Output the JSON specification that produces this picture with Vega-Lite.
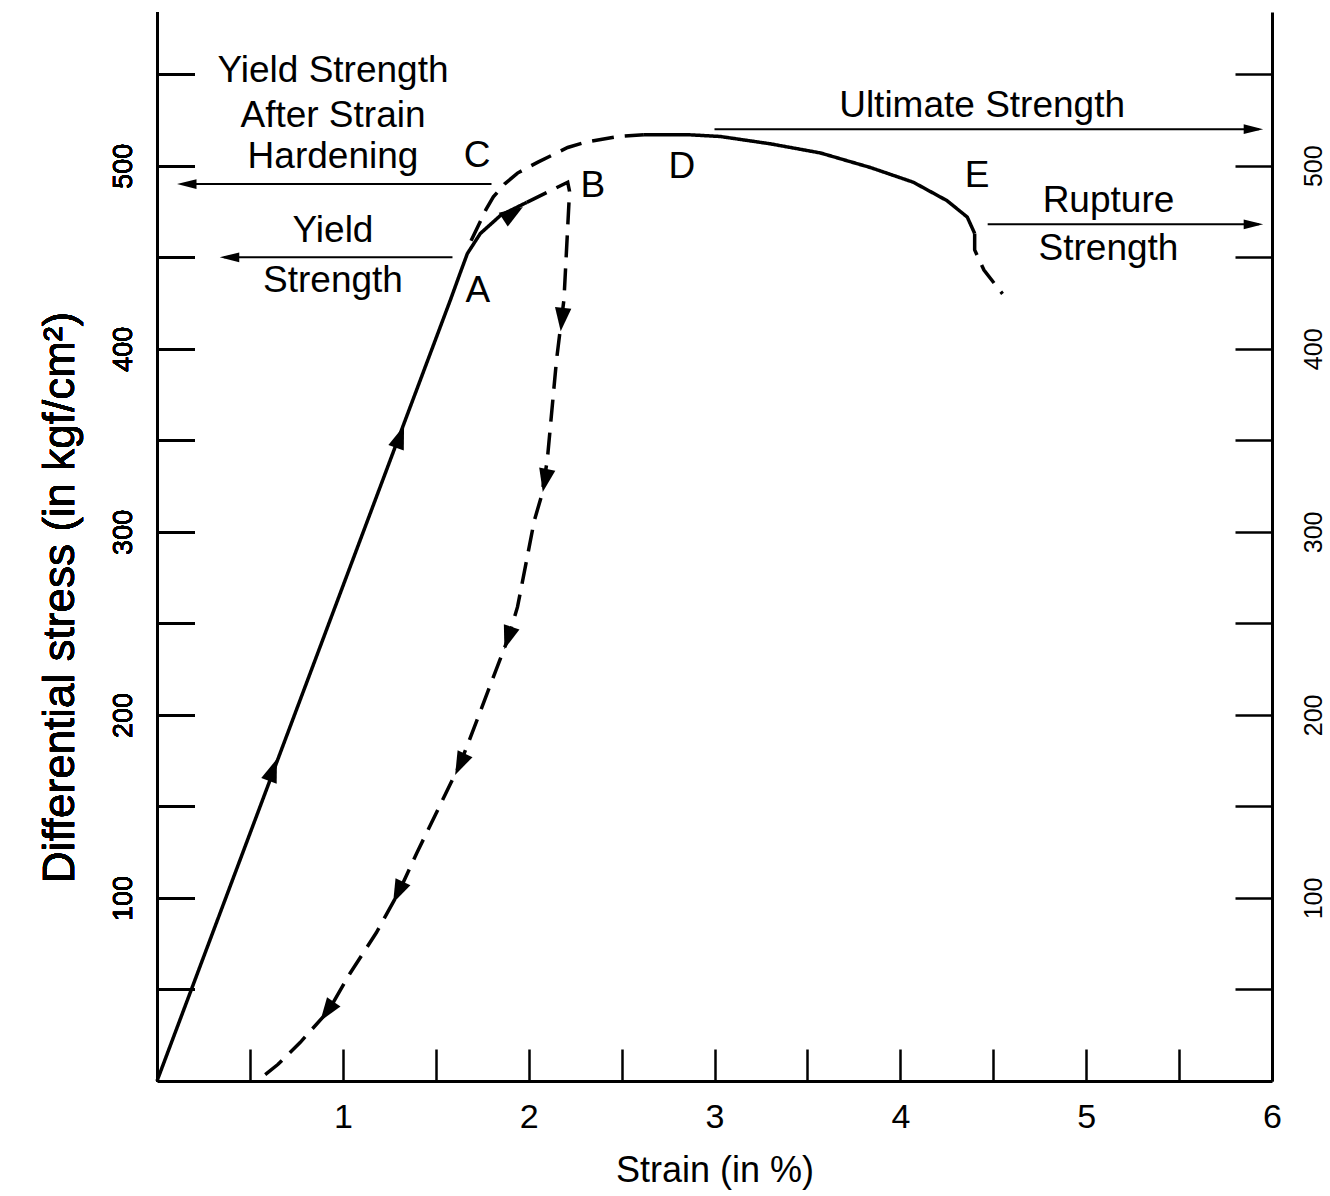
{
  "$schema": "https://vega.github.io/schema/vega-lite/v6.json",
  "autosize": {"type": "none"},
  "padding": {"left": 157, "top": 12, "right": 58, "bottom": 115},
  "width": 1115,
  "height": 1069,
  "background": "white",
  "config": {"view": {"stroke": null}, "font": "Liberation Sans"},
  "datasets": {
    "curves": [
      {"series": "load", "style": "solid", "i": 0, "x": 0, "y": 0},
      {"series": "load", "style": "solid", "i": 1, "x": 1.58, "y": 427},
      {"series": "load", "style": "solid", "i": 2, "x": 1.63, "y": 441},
      {"series": "load", "style": "solid", "i": 3, "x": 1.67, "y": 452},
      {"series": "load", "style": "solid", "i": 4, "x": 1.74, "y": 463},
      {"series": "load", "style": "solid", "i": 5, "x": 1.85, "y": 473},
      {"series": "load", "style": "solid", "i": 6, "x": 1.99, "y": 480},
      {"series": "unload", "style": "dashed", "i": 0, "x": 1.99, "y": 480},
      {"series": "unload", "style": "dashed", "i": 1, "x": 2.21, "y": 491},
      {"series": "unload", "style": "dashed", "i": 2, "x": 2.22, "y": 486},
      {"series": "unload", "style": "dashed", "i": 3, "x": 2.19, "y": 427},
      {"series": "unload", "style": "dashed", "i": 4, "x": 2.15, "y": 394},
      {"series": "unload", "style": "dashed", "i": 5, "x": 2.13, "y": 372},
      {"series": "unload", "style": "dashed", "i": 6, "x": 2.1, "y": 339},
      {"series": "unload", "style": "dashed", "i": 7, "x": 2.07, "y": 320},
      {"series": "unload", "style": "dashed", "i": 8, "x": 2.03, "y": 306},
      {"series": "unload", "style": "dashed", "i": 9, "x": 1.99, "y": 285},
      {"series": "unload", "style": "dashed", "i": 10, "x": 1.94, "y": 259},
      {"series": "unload", "style": "dashed", "i": 11, "x": 1.89, "y": 242},
      {"series": "unload", "style": "dashed", "i": 12, "x": 1.8, "y": 218},
      {"series": "unload", "style": "dashed", "i": 13, "x": 1.68, "y": 186},
      {"series": "unload", "style": "dashed", "i": 14, "x": 1.63, "y": 173},
      {"series": "unload", "style": "dashed", "i": 15, "x": 1.52, "y": 150},
      {"series": "unload", "style": "dashed", "i": 16, "x": 1.4, "y": 125},
      {"series": "unload", "style": "dashed", "i": 17, "x": 1.3, "y": 103},
      {"series": "unload", "style": "dashed", "i": 18, "x": 1.18, "y": 81},
      {"series": "unload", "style": "dashed", "i": 19, "x": 1.04, "y": 59},
      {"series": "unload", "style": "dashed", "i": 20, "x": 0.92, "y": 38},
      {"series": "unload", "style": "dashed", "i": 21, "x": 0.77, "y": 21},
      {"series": "unload", "style": "dashed", "i": 22, "x": 0.65, "y": 9},
      {"series": "unload", "style": "dashed", "i": 23, "x": 0.54, "y": 0},
      {"series": "reload", "style": "dashed", "i": 0, "x": 1.69, "y": 459},
      {"series": "reload", "style": "dashed", "i": 1, "x": 1.77, "y": 476},
      {"series": "reload", "style": "dashed", "i": 2, "x": 1.81, "y": 483},
      {"series": "reload", "style": "dashed", "i": 3, "x": 1.87, "y": 490},
      {"series": "reload", "style": "dashed", "i": 4, "x": 1.94, "y": 496},
      {"series": "reload", "style": "dashed", "i": 5, "x": 2.05, "y": 502},
      {"series": "reload", "style": "dashed", "i": 6, "x": 2.21, "y": 510},
      {"series": "reload", "style": "dashed", "i": 7, "x": 2.31, "y": 513},
      {"series": "reload", "style": "dashed", "i": 8, "x": 2.48, "y": 516},
      {"series": "reload", "style": "dashed", "i": 9, "x": 2.62, "y": 517},
      {"series": "plastic", "style": "solid", "i": 0, "x": 2.62, "y": 517},
      {"series": "plastic", "style": "solid", "i": 1, "x": 2.85, "y": 517},
      {"series": "plastic", "style": "solid", "i": 2, "x": 3.03, "y": 516},
      {"series": "plastic", "style": "solid", "i": 3, "x": 3.3, "y": 512},
      {"series": "plastic", "style": "solid", "i": 4, "x": 3.57, "y": 507},
      {"series": "plastic", "style": "solid", "i": 5, "x": 3.84, "y": 499},
      {"series": "plastic", "style": "solid", "i": 6, "x": 4.07, "y": 491},
      {"series": "plastic", "style": "solid", "i": 7, "x": 4.25, "y": 481},
      {"series": "plastic", "style": "solid", "i": 8, "x": 4.36, "y": 472},
      {"series": "plastic", "style": "solid", "i": 9, "x": 4.4, "y": 463},
      {"series": "rupture", "style": "dashed", "i": 0, "x": 4.4, "y": 463},
      {"series": "rupture", "style": "dashed", "i": 1, "x": 4.4, "y": 454},
      {"series": "rupture", "style": "dashed", "i": 2, "x": 4.45, "y": 443},
      {"series": "rupture", "style": "dashed", "i": 3, "x": 4.55, "y": 430}
    ],
    "shafts": [
      {"name": "yield", "x": 0.36, "x2": 1.59, "y": 450},
      {"name": "hardening", "x": 0.13, "x2": 1.8, "y": 490},
      {"name": "ultimate", "x": 3.0, "x2": 5.93, "y": 520},
      {"name": "rupture", "x": 4.47, "x2": 5.93, "y": 468}
    ],
    "arrows": [
      {"arrow": "load1", "x": 0.624, "y": 170},
      {"arrow": "load2", "x": 1.308, "y": 352},
      {"arrow": "load3", "x": 1.916, "y": 474},
      {"arrow": "unload1", "x": 2.179, "y": 416},
      {"arrow": "unload2", "x": 2.088, "y": 328},
      {"arrow": "unload3", "x": 1.889, "y": 242},
      {"arrow": "unload4", "x": 1.631, "y": 173},
      {"arrow": "unload5", "x": 1.297, "y": 103},
      {"arrow": "unload6", "x": 0.915, "y": 38},
      {"arrow": "yield", "x": 0.39, "y": 450},
      {"arrow": "hardening", "x": 0.16, "y": 490},
      {"arrow": "ultimate", "x": 5.9, "y": 520},
      {"arrow": "rupture", "x": 5.9, "y": 468}
    ],
    "labels": [
      {"text": "Yield Strength", "x": 0.947, "y": 545.8},
      {"text": "After Strain", "x": 0.947, "y": 521.2},
      {"text": "Hardening", "x": 0.947, "y": 498.8},
      {"text": "Yield", "x": 0.947, "y": 458.3},
      {"text": "Strength", "x": 0.947, "y": 431.0},
      {"text": "C", "x": 1.722, "y": 499.3},
      {"text": "A", "x": 1.727, "y": 425.6},
      {"text": "B", "x": 2.346, "y": 482.9},
      {"text": "D", "x": 2.825, "y": 493.3},
      {"text": "E", "x": 4.413, "y": 488.4},
      {"text": "Ultimate Strength", "x": 4.44, "y": 526.6},
      {"text": "Rupture", "x": 5.12, "y": 474.7},
      {"text": "Strength", "x": 5.12, "y": 448.5}
    ]
  },
  "encoding": {
    "x": {
      "field": "x", "type": "quantitative",
      "scale": {"domain": [0, 6], "nice": false, "zero": false},
      "axis": {
        "orient": "bottom",
        "values": [0.5, 1, 1.5, 2, 2.5, 3, 3.5, 4, 4.5, 5, 5.5, 6],
        "format": "~g",
        "labelExpr": "datum.value % 1 === 0 ? datum.label : ''",
        "grid": false,
        "domainColor": "black", "domainWidth": 3,
        "tickColor": "black", "tickWidth": 2.5, "tickSize": -32,
        "labelFont": "Liberation Sans", "labelFontSize": 34, "labelColor": "black",
        "labelPadding": 51, "labelFlush": false, "labelOverlap": false,
        "labelBaseline": "top",
        "title": "Strain (in %)",
        "titleFont": "Liberation Sans", "titleFontSize": 36, "titleFontWeight": "normal", "titleColor": "black",
        "titleBaseline": "alphabetic", "titleY": 100
      }
    },
    "y": {
      "field": "y", "type": "quantitative",
      "scale": {"domain": [0, 584], "nice": false, "zero": false},
      "axis": {
        "orient": "left",
        "values": [50, 100, 150, 200, 250, 300, 350, 400, 450, 500, 550],
        "labelExpr": "datum.value % 100 === 0 ? datum.label : ''",
        "grid": false,
        "domainColor": "black", "domainWidth": 3,
        "tickColor": "black", "tickWidth": 2.5, "tickSize": -37,
        "labelFont": "Liberation Sans", "labelFontSize": 27, "labelColor": "black",
        "labelAngle": -90, "labelAlign": "center", "labelBaseline": "bottom",
        "labelPadding": 57, "labelFlush": false, "labelOverlap": false,
        "title": "Differential stress (in kgf/cm²)",
        "titleFont": "Liberation Sans", "titleFontSize": 44, "titleFontWeight": "normal", "titleColor": "black",
        "titleAngle": -90, "titleAlign": "center", "titleBaseline": "middle",
        "titleX": -97, "titleY": 585
      }
    }
  },
  "layer": [
    {
      "data": {"name": "curves"},
      "mark": {"type": "line", "color": "black", "strokeWidth": 3.5, "strokeCap": "butt"},
      "encoding": {
        "detail": {"field": "series", "type": "nominal"},
        "order": {"field": "i", "type": "quantitative"},
        "strokeDash": {
          "field": "style", "type": "nominal", "legend": null,
          "scale": {"domain": ["solid", "dashed"], "range": [[1, 0], [22, 11]]}
        }
      }
    },
    {
      "data": {"name": "shafts"},
      "mark": {"type": "rule", "color": "black", "strokeWidth": 2},
      "encoding": {
        "x2": {"field": "x2"}
      }
    },
    {
      "data": {"name": "arrows"},
      "transform": [{"filter": {"field": "arrow", "oneOf": ["load1", "load2"]}}],
      "mark": {"type": "point", "shape": "M0,-1L0.7,1L-0.7,1Z", "filled": true, "color": "black", "opacity": 1, "size": 550, "angle": 20}
    },
    {
      "data": {"name": "arrows"},
      "transform": [{"filter": {"field": "arrow", "oneOf": ["load3"]}}],
      "mark": {"type": "point", "shape": "M0,-1L0.7,1L-0.7,1Z", "filled": true, "color": "black", "opacity": 1, "size": 550, "angle": 57}
    },
    {
      "data": {"name": "arrows"},
      "transform": [{"filter": {"field": "arrow", "oneOf": ["unload1"]}}],
      "mark": {"type": "point", "shape": "M0,-1L0.7,1L-0.7,1Z", "filled": true, "color": "black", "opacity": 1, "size": 550, "angle": 186}
    },
    {
      "data": {"name": "arrows"},
      "transform": [{"filter": {"field": "arrow", "oneOf": ["unload2"]}}],
      "mark": {"type": "point", "shape": "M0,-1L0.7,1L-0.7,1Z", "filled": true, "color": "black", "opacity": 1, "size": 550, "angle": 191}
    },
    {
      "data": {"name": "arrows"},
      "transform": [{"filter": {"field": "arrow", "oneOf": ["unload3"]}}],
      "mark": {"type": "point", "shape": "M0,-1L0.7,1L-0.7,1Z", "filled": true, "color": "black", "opacity": 1, "size": 550, "angle": 198}
    },
    {
      "data": {"name": "arrows"},
      "transform": [{"filter": {"field": "arrow", "oneOf": ["unload4", "unload5"]}}],
      "mark": {"type": "point", "shape": "M0,-1L0.7,1L-0.7,1Z", "filled": true, "color": "black", "opacity": 1, "size": 550, "angle": 205}
    },
    {
      "data": {"name": "arrows"},
      "transform": [{"filter": {"field": "arrow", "oneOf": ["unload6"]}}],
      "mark": {"type": "point", "shape": "M0,-1L0.7,1L-0.7,1Z", "filled": true, "color": "black", "opacity": 1, "size": 550, "angle": 215}
    },
    {
      "data": {"name": "arrows"},
      "transform": [{"filter": {"field": "arrow", "oneOf": ["yield", "hardening"]}}],
      "mark": {"type": "point", "shape": "M0,-1L0.5,1L-0.5,1Z", "filled": true, "color": "black", "opacity": 1, "size": 380, "angle": 270}
    },
    {
      "data": {"name": "arrows"},
      "transform": [{"filter": {"field": "arrow", "oneOf": ["ultimate", "rupture"]}}],
      "mark": {"type": "point", "shape": "M0,-1L0.5,1L-0.5,1Z", "filled": true, "color": "black", "opacity": 1, "size": 380, "angle": 90}
    },
    {
      "data": {"name": "labels"},
      "mark": {"type": "text", "font": "Liberation Sans", "fontSize": 37, "align": "center", "baseline": "alphabetic", "color": "black"},
      "encoding": {
        "text": {"field": "text", "type": "nominal"},
        "y": {
          "field": "y", "type": "quantitative",
          "axis": {
            "orient": "right",
            "values": [50, 100, 150, 200, 250, 300, 350, 400, 450, 500, 550],
            "labelExpr": "datum.value % 100 === 0 ? datum.label : ''",
            "grid": false,
            "domainColor": "black", "domainWidth": 3,
            "tickColor": "black", "tickWidth": 2.5, "tickSize": -37,
            "labelFont": "Liberation Sans", "labelFontSize": 25, "labelColor": "black",
            "labelAngle": -90, "labelAlign": "center", "labelBaseline": "top",
            "labelPadding": 66, "labelFlush": false, "labelOverlap": false,
            "title": null
          }
        }
      }
    }
  ],
  "resolve": {"axis": {"y": "independent"}}
}
